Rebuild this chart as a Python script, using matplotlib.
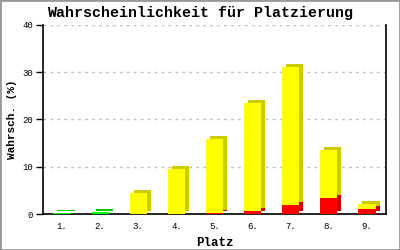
import matplotlib
matplotlib.use("Agg")
import matplotlib.pyplot as plt
import matplotlib.transforms as mtransforms
from matplotlib.patches import Rectangle
import numpy as np

categories = ["1.", "2.", "3.", "4.", "5.", "6.", "7.", "8.", "9."]
green = [0.3, 0.5, 0, 0, 0, 0, 0, 0, 0]
red = [0, 0, 0, 0, 0.2, 0.7, 2.0, 3.45, 1.1]
yellow = [0, 0, 4.4, 9.5, 15.7, 22.8, 29.2, 10.2, 1.1]

front = {"green": "#00ff00", "red": "#ff0000", "yellow": "#ffff00"}
shade = {"green": "#00cc00", "red": "#cc0000", "yellow": "#cccc00"}

mono = ["Liberation Mono", "DejaVu Sans Mono"]

fig = plt.figure(figsize=(4, 2.5), dpi=100)
ax = fig.add_axes([0.1075, 0.144, 0.8575, 0.756])

x = np.arange(len(categories))
w = 0.45
off = mtransforms.ScaledTranslation(4 / 100, 3 / 100, fig.dpi_scale_trans)
shadow_tr = ax.transData + off

series = [("green", green), ("red", red), ("yellow", yellow)]
bottom = np.zeros(len(categories))
for name, vals in series:
    vals = np.array(vals, dtype=float)
    mask = vals > 0
    ax.bar(x[mask], vals[mask], w, bottom=bottom[mask], color=shade[name],
           transform=shadow_tr, zorder=2, linewidth=0)
    bottom = bottom + vals
bottom = np.zeros(len(categories))
for name, vals in series:
    vals = np.array(vals, dtype=float)
    mask = vals > 0
    ax.bar(x[mask], vals[mask], w, bottom=bottom[mask], color=front[name],
           zorder=3, linewidth=0)
    bottom = bottom + vals

ax.set_xlim(-0.5, 8.5)
ax.set_ylim(0, 40)
ax.set_yticks([0, 10, 20, 30, 40])
ax.set_xticks(x)
ax.set_xticklabels(categories, family=mono, fontsize=6.5)
for lab in ax.get_yticklabels():
    lab.set_family(mono)
    lab.set_fontsize(6.5)
ax.tick_params(axis="x", length=0, pad=6)
ax.tick_params(axis="y", length=5, width=1, pad=2, direction="out")
ax.yaxis.grid(True, color="#c0c0c0", linestyle=(0, (2, 3)), linewidth=1)
ax.set_axisbelow(True)
ax.spines["top"].set_visible(False)
for s in ["left", "bottom", "right"]:
    ax.spines[s].set_linewidth(1.2)
    ax.spines[s].set_color("black")

ax.set_xlabel("Platz", family=mono, fontsize=9, fontweight="bold", labelpad=4)
ax.set_ylabel("Wahrsch. (%)", family=mono, fontsize=8, fontweight="bold",
              va="center")
ax.yaxis.set_label_coords(-0.09, 0.5)
fig.text(0.5, 0.948, "Wahrscheinlichkeit für Platzierung", family=mono,
         fontsize=10.8, fontweight="bold", ha="center", va="center")

fig.add_artist(Rectangle((0, 0), 1, 1, transform=fig.transFigure, fill=False,
                         edgecolor="#999999", linewidth=2))

fig.savefig("out.png", dpi=100)
